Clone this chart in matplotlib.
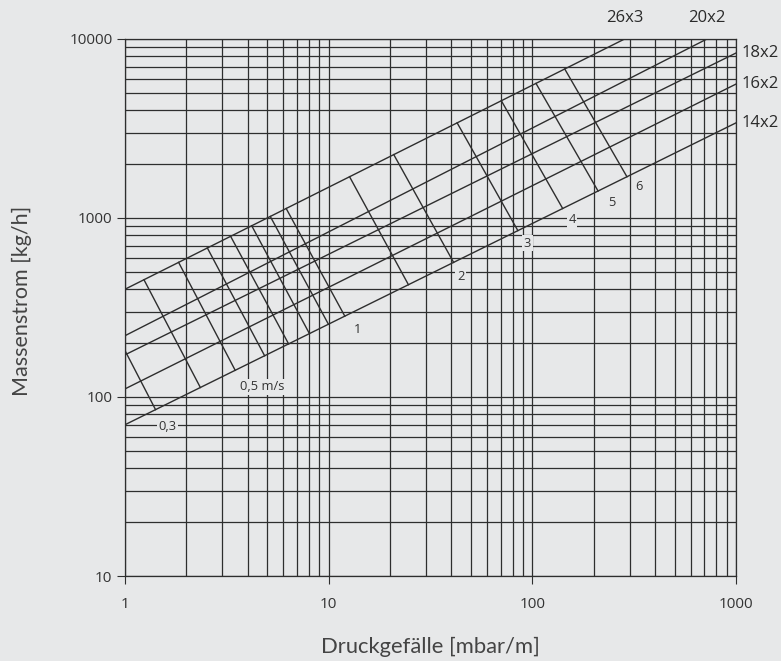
import matplotlib
matplotlib.use("Agg")
import matplotlib.pyplot as plt
import numpy as np

BG = "#e7e8e9"
INK = "#2e2e2e"

# copper pipes: mass flow [kg/h] read at 1 and 1000 mbar/m
PIPES = ["26x3", "20x2", "18x2", "16x2", "14x2"]
FLOW_AT_1 = [400, 220, 172, 111, 70]
FLOW_AT_1000 = [20500, 12100, 8350, 5600, 3400]

# velocity lines: mass flow where they meet the 26x3 line and the 14x2 line
VELOCITIES = [0.3, 0.4, 0.5, 0.6, 0.7, 0.8, 0.9, 1, 1.5, 2, 3, 4, 5, 6]
FLOW_TOP = [340, 452, 565, 680, 790, 905, 1020, 1130, 1700, 2260, 3400, 4520, 5650, 6800]
FLOW_BOTTOM = [85, 113, 141, 170, 198, 226, 255, 283, 424, 565, 850, 1130, 1415, 1700]

VEL_LABELS = ["0,3", "0,5 m/s", "1", "2", "3", "4", "5", "6"]
VEL_LABEL_POS = [(1.61, 68), (4.7, 114), (13.9, 237), (44.4, 474),
                 (94.5, 724), (157, 975), (247, 1228), (335, 1490)]

X_TICKS = [1, 10, 100, 1000]
Y_TICKS = [10, 100, 1000, 10000]


def dp_for_flow(i, m):
    # invert the straight pipe line in log-log space
    slope = (np.log10(FLOW_AT_1000[i]) - np.log10(FLOW_AT_1[i])) / 3
    return 10 ** ((np.log10(m) - np.log10(FLOW_AT_1[i])) / slope)


fig = plt.figure(figsize=(7.81, 6.61), dpi=100, facecolor=BG)
ax = fig.add_axes([125 / 781, 85 / 661, 611 / 781, 537 / 661])
ax.set_facecolor(BG)
ax.set_xscale("log")
ax.set_yscale("log")
ax.set_xlim(1, 1000)
ax.set_ylim(10, 10000)

# log grid drawn as plain lines
for dec in [1, 10, 100]:
    for k in range(1, 10):
        ax.axvline(dec * k, color=INK, lw=0.9, zorder=1)
for dec in [10, 100, 1000]:
    for k in range(1, 10):
        ax.axhline(dec * k, color=INK, lw=0.9, zorder=1)
ax.axvline(1000, color=INK, lw=0.9, zorder=1)
ax.axhline(10000, color=INK, lw=0.9, zorder=1)

# pipe lines
for i, name in enumerate(PIPES):
    ax.plot([1, 1000], [FLOW_AT_1[i], FLOW_AT_1000[i]], color=INK, lw=1.0, zorder=2)
    if FLOW_AT_1000[i] > 10000:
        xe = dp_for_flow(i, 10000)
        ax.annotate(name, (xe, 10000), xytext=(0, 15), textcoords="offset points",
                    ha="center", va="center", fontsize=12, color="#2a2a2a",
                    family="Open Sans", annotation_clip=False)
    else:
        ax.annotate(name, (1000, FLOW_AT_1000[i]), xytext=(4, 0), textcoords="offset points",
                    ha="left", va="center", fontsize=12, color="#2a2a2a",
                    family="Open Sans", annotation_clip=False)

# velocity lines between the largest and the smallest pipe
for v, mt, mb in zip(VELOCITIES, FLOW_TOP, FLOW_BOTTOM):
    xt = dp_for_flow(0, mt)
    xb = dp_for_flow(len(PIPES) - 1, mb)
    ax.plot([xt, xb], [mt, mb], color=INK, lw=1.0, zorder=2)

for txt, (x, y) in zip(VEL_LABELS, VEL_LABEL_POS):
    ax.text(x, y, txt, ha="center", va="center", fontsize=9.3, color="#333333",
            family="Open Sans", zorder=4,
            bbox=dict(boxstyle="square,pad=0.12", facecolor=BG, edgecolor="none"))

for s in ax.spines.values():
    s.set_color(INK)
    s.set_linewidth(0.9)

ax.set_xticks(X_TICKS)
ax.set_xticklabels([str(t) for t in X_TICKS])
ax.set_yticks(Y_TICKS)
ax.set_yticklabels([str(t) for t in Y_TICKS])
ax.minorticks_off()
ax.tick_params(axis="both", which="major", length=6, width=0.8, color=INK,
               labelsize=11, labelcolor="#333333")
ax.tick_params(axis="x", pad=9)
ax.tick_params(axis="y", pad=3)
for lab in ax.get_xticklabels() + ax.get_yticklabels():
    lab.set_family("Open Sans")

fig.text(430 / 781, 1 - 647 / 661, "Druckgefälle [mbar/m]", ha="center", va="center",
         fontsize=15.8, color="#444444", family="Lato")
fig.text(22 / 781, 1 - 301 / 661, "Massenstrom [kg/h]", ha="center", va="center",
         rotation=90, fontsize=15.5, color="#444444", family="Lato")

fig.savefig("out.png", dpi=100, facecolor=BG)
